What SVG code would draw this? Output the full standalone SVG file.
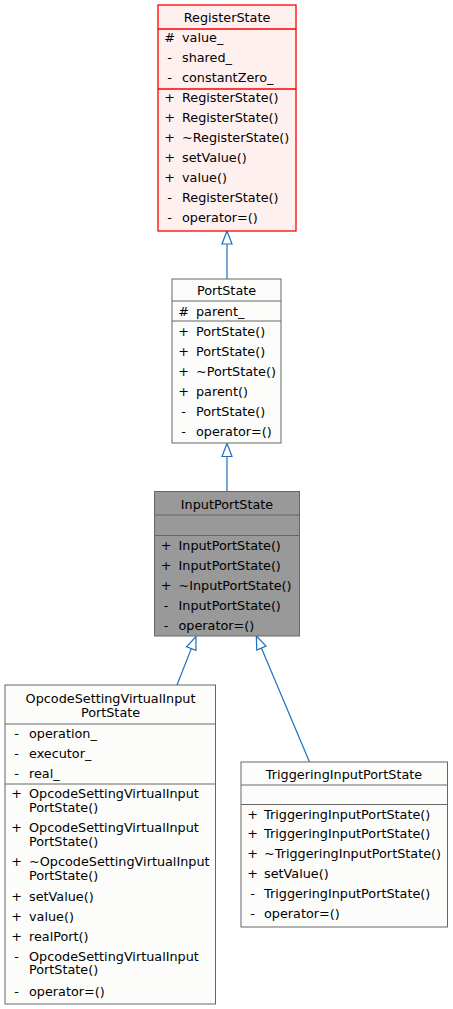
<svg xmlns="http://www.w3.org/2000/svg" width="453" height="1009" viewBox="0 0 453 1009">
<style>
text{font-family:"DejaVu Sans","Liberation Sans",sans-serif;font-size:12.8px;fill:#000}
.t{text-anchor:middle}
.s{text-anchor:middle}
.box{fill:#FCFDFB;stroke:#666666;stroke-width:1}
.red{fill:#FFF0F0;stroke:#FF0000;stroke-width:1.3}
.gray{fill:#999999;stroke:#666666;stroke-width:1}
.sepg{stroke:#666666;stroke-width:1}
.sepr{stroke:#FF0000;stroke-width:1.3}
.edge{stroke:#1C6FBF;stroke-width:1.2;fill:none}
.head{stroke:#1C6FBF;stroke-width:1.2;fill:#ffffff}
</style>
<rect width="453" height="1009" fill="#ffffff"/>
<g id="connectors">
<line class="edge" x1="227" y1="279" x2="227" y2="244"/>
<polygon class="head" points="227,231 222,244 232,244"/>
<line class="edge" x1="227" y1="491.5" x2="227" y2="456.5"/>
<polygon class="head" points="227,443.5 222,456.5 232,456.5"/>
<line class="edge" x1="177" y1="685" x2="191.3" y2="648.6"/>
<polygon class="head" points="196,636.5 195.9,650.4 186.6,646.8"/>
<line class="edge" x1="309.5" y1="762" x2="261.4" y2="648"/>
<polygon class="head" points="256.3,636 266,646 256.8,650"/>
</g>
<g id="RegisterState">
<rect class="red" x="158" y="5" width="138" height="226"/>
<line class="sepr" x1="158" y1="29" x2="296" y2="29"/>
<line class="sepr" x1="158" y1="89" x2="296" y2="89"/>
<text class="t" x="227" y="21.5">RegisterState</text>
<text class="s" x="169.5" y="42">#</text><text x="182" y="42">value_</text>
<text class="s" x="169.5" y="62">-</text><text x="182" y="62">shared_</text>
<text class="s" x="169.5" y="82">-</text><text x="182" y="82">constantZero_</text>
<text class="s" x="169.5" y="102">+</text><text x="182" y="102">RegisterState()</text>
<text class="s" x="169.5" y="122">+</text><text x="182" y="122">RegisterState()</text>
<text class="s" x="169.5" y="142">+</text><text x="182" y="142">~RegisterState()</text>
<text class="s" x="169.5" y="162">+</text><text x="182" y="162">setValue()</text>
<text class="s" x="169.5" y="182">+</text><text x="182" y="182">value()</text>
<text class="s" x="169.5" y="202">-</text><text x="182" y="202">RegisterState()</text>
<text class="s" x="169.5" y="222">-</text><text x="182" y="222">operator=()</text>
</g>
<g id="PortState">
<rect class="box" x="172" y="279" width="109" height="164"/>
<line class="sepg" x1="172" y1="301" x2="281" y2="301"/>
<line class="sepg" x1="172" y1="321" x2="281" y2="321"/>
<text class="t" x="226.5" y="295">PortState</text>
<text class="s" x="183.5" y="315.5">#</text><text x="196" y="315.5">parent_</text>
<text class="s" x="183.5" y="335.5">+</text><text x="196" y="335.5">PortState()</text>
<text class="s" x="183.5" y="355.5">+</text><text x="196" y="355.5">PortState()</text>
<text class="s" x="183.5" y="375.5">+</text><text x="196" y="375.5">~PortState()</text>
<text class="s" x="183.5" y="395.5">+</text><text x="196" y="395.5">parent()</text>
<text class="s" x="183.5" y="415.5">-</text><text x="196" y="415.5">PortState()</text>
<text class="s" x="183.5" y="435.5">-</text><text x="196" y="435.5">operator=()</text>
</g>
<g id="InputPortState">
<rect class="gray" x="154.5" y="491.5" width="145" height="144.5"/>
<line class="sepg" x1="154.5" y1="515" x2="299.5" y2="515"/>
<line class="sepg" x1="154.5" y1="535.5" x2="299.5" y2="535.5"/>
<text class="t" x="227" y="508.5">InputPortState</text>
<text class="s" x="166" y="549.5">+</text><text x="178.5" y="549.5">InputPortState()</text>
<text class="s" x="166" y="569.5">+</text><text x="178.5" y="569.5">InputPortState()</text>
<text class="s" x="166" y="589.5">+</text><text x="178.5" y="589.5">~InputPortState()</text>
<text class="s" x="166" y="609.5">-</text><text x="178.5" y="609.5">InputPortState()</text>
<text class="s" x="166" y="629.5">-</text><text x="178.5" y="629.5">operator=()</text>
</g>
<g id="OpcodeSettingVirtualInputPortState">
<rect class="box" x="5" y="685" width="210.5" height="319"/>
<line class="sepg" x1="5" y1="724" x2="215.5" y2="724"/>
<line class="sepg" x1="5" y1="784" x2="215.5" y2="784"/>
<text class="t" x="110.5" y="702.5">OpcodeSettingVirtualInput</text>
<text class="t" x="110.5" y="716.5">PortState</text>
<text class="s" x="16.5" y="737.5">-</text><text x="29" y="737.5">operation_</text>
<text class="s" x="16.5" y="757.5">-</text><text x="29" y="757.5">executor_</text>
<text class="s" x="16.5" y="777.5">-</text><text x="29" y="777.5">real_</text>
<text class="s" x="16.5" y="797.5">+</text><text x="29" y="797.5">OpcodeSettingVirtualInput</text>
<text x="29" y="811.5">PortState()</text>
<text class="s" x="16.5" y="831.5">+</text><text x="29" y="831.5">OpcodeSettingVirtualInput</text>
<text x="29" y="845.5">PortState()</text>
<text class="s" x="16.5" y="866">+</text><text x="29" y="866">~OpcodeSettingVirtualInput</text>
<text x="29" y="880">PortState()</text>
<text class="s" x="16.5" y="900.5">+</text><text x="29" y="900.5">setValue()</text>
<text class="s" x="16.5" y="920.5">+</text><text x="29" y="920.5">value()</text>
<text class="s" x="16.5" y="940.5">+</text><text x="29" y="940.5">realPort()</text>
<text class="s" x="16.5" y="960.5">-</text><text x="29" y="960.5">OpcodeSettingVirtualInput</text>
<text x="29" y="974">PortState()</text>
<text class="s" x="16.5" y="995.5">-</text><text x="29" y="995.5">operator=()</text>
</g>
<g id="TriggeringInputPortState">
<rect class="box" x="241" y="762" width="206.5" height="165"/>
<line class="sepg" x1="241" y1="785" x2="447.5" y2="785"/>
<line class="sepg" x1="241" y1="804.5" x2="447.5" y2="804.5"/>
<text class="t" x="344" y="778.5">TriggeringInputPortState</text>
<text class="s" x="252.5" y="818.5">+</text><text x="264" y="818.5">TriggeringInputPortState()</text>
<text class="s" x="252.5" y="838">+</text><text x="264" y="838">TriggeringInputPortState()</text>
<text class="s" x="252.5" y="858">+</text><text x="264" y="858">~TriggeringInputPortState()</text>
<text class="s" x="252.5" y="878">+</text><text x="264" y="878">setValue()</text>
<text class="s" x="252.5" y="898">-</text><text x="264" y="898">TriggeringInputPortState()</text>
<text class="s" x="252.5" y="918">-</text><text x="264" y="918">operator=()</text>
</g>
</svg>
